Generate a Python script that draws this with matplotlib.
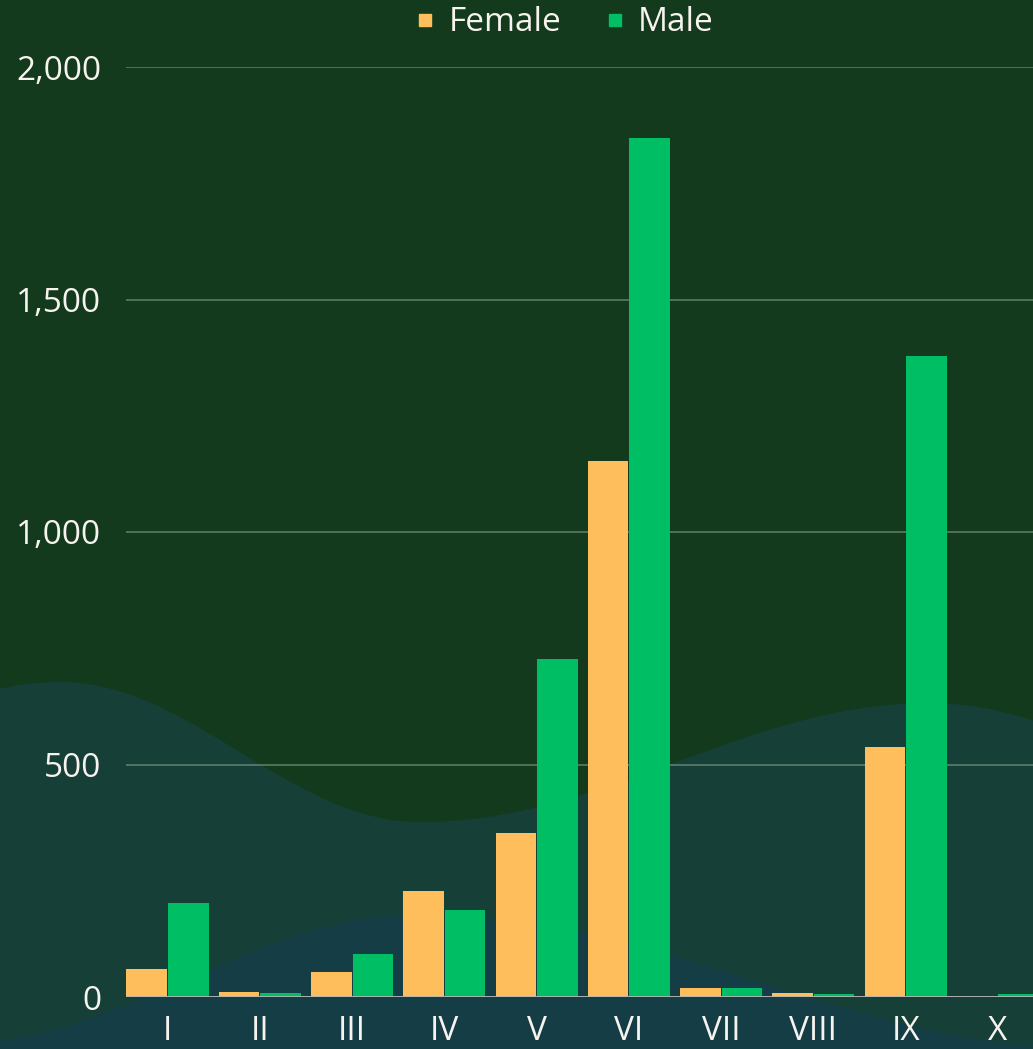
import numpy as np
import matplotlib
matplotlib.use('Agg')
import matplotlib.pyplot as plt
from matplotlib.lines import Line2D

categories = ['I', 'II', 'III', 'IV', 'V', 'VI', 'VII', 'VIII', 'IX', 'X']
female = [60, 11, 54, 228, 353, 1153, 19, 9, 538, 0]
male = [202, 8, 92, 187, 727, 1847, 19, 6, 1378, 6]

yticks = [0, 500, 1000, 1500, 2000]
ytick_labels = ['0', '500', '1,000', '1,500', '2,000']

female_color = '#ffbe5c'
male_color = '#00be64'
text_color = '#f7f3ee'

plt.rcParams['font.family'] = ['Open Sans', 'DejaVu Sans']
fs = 24

W, H = 1033, 1049
fig = plt.figure(figsize=(W / 100, H / 100), dpi=100, facecolor='#133a1c')

# decorative background waves (pixel space)
def wave(x, extremes):
    xs = [e[0] for e in extremes]
    ys = [e[1] for e in extremes]
    y = np.empty_like(x)
    for k in range(len(xs) - 1):
        m = (x >= xs[k]) & (x <= xs[k + 1])
        t = (x[m] - xs[k]) / (xs[k + 1] - xs[k])
        y[m] = ys[k] + (ys[k + 1] - ys[k]) * (1 - np.cos(np.pi * t)) / 2
    return y

bg = fig.add_axes([0, 0, 1, 1], zorder=-5)
bg.set_xlim(0, W)
bg.set_ylim(H, 0)
bg.axis('off')
xx = np.linspace(0, W, 600).astype(float)
w1 = wave(xx, [(-300, 780), (60, 682), (420, 822), (930, 703), (1300, 800)])
w2 = wave(xx, [(-500, 1000), (-50, 1045), (420, 915), (1100, 1050), (1400, 1000)])
bg.fill_between(xx, w1, H, color='#153f37', lw=0)
bg.fill_between(xx, w2, H, color='#143d46', lw=0)

# main chart
x0, x1 = 126 / W, 1.0
y0, y1 = (H - 997) / H, (H - 67) / H
ax = fig.add_axes([x0, y0, x1 - x0, y1 - y0])
ax.patch.set_alpha(0)

x = np.arange(len(categories))
bw = 0.44
ax.bar(x - 0.225, female, bw, color=female_color, label='Female', zorder=3, linewidth=0)
ax.bar(x + 0.225, male, bw, color=male_color, label='Male', zorder=3, linewidth=0)

ax.set_xlim(-0.45, 9.38)
ax.set_ylim(0, 2000)
ax.set_yticks(yticks)
ax.set_yticklabels(ytick_labels)
ax.yaxis.grid(True, color='#86a08a', alpha=0.55, lw=1.4, zorder=1)
ax.axhline(0, color='#b4b4b4', lw=2, zorder=4)
ax.set_xticks(x)
ax.set_xticklabels(categories)
ax.tick_params(axis='x', length=0, pad=13, labelsize=fs, labelcolor=text_color)
ax.tick_params(axis='y', length=0, pad=18, labelsize=fs, labelcolor=text_color)
for s in ax.spines.values():
    s.set_visible(False)

handles = [Line2D([], [], marker='s', ls='', color=female_color, markersize=9),
           Line2D([], [], marker='s', ls='', color=male_color, markersize=9)]
leg = fig.legend(handles, ['Female', 'Male'], loc='center',
                 bbox_to_anchor=(563 / W, 1 - 23 / H), ncol=2, frameon=False,
                 fontsize=fs, handletextpad=0.3, columnspacing=1.2,
                 handlelength=0.8)
for t in leg.get_texts():
    t.set_color(text_color)

fig.savefig('out.png', dpi=100, facecolor=fig.get_facecolor())
